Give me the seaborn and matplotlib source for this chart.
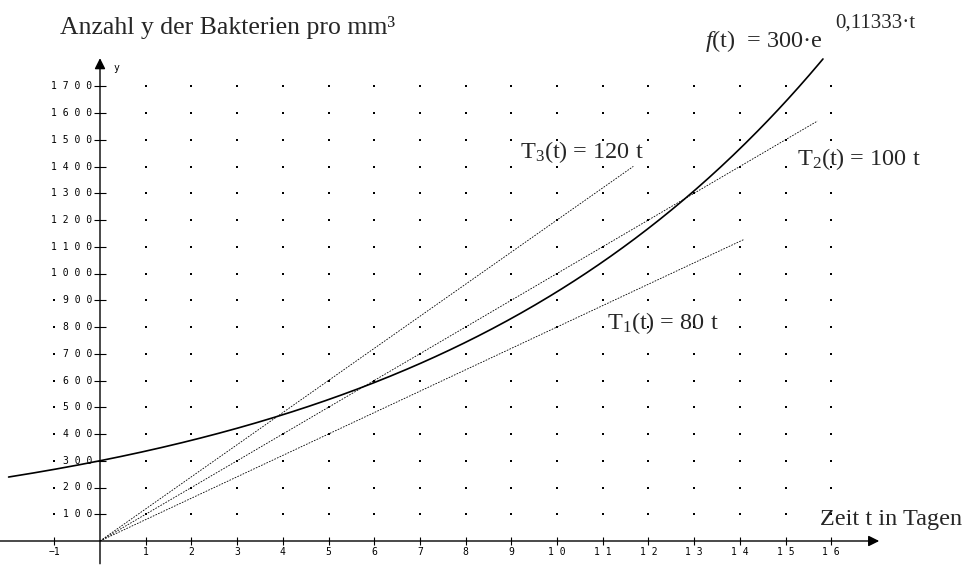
"""Bacteria growth: exponential curve with three tangent-like lines."""
import matplotlib
matplotlib.use("Agg")
import matplotlib.pyplot as plt
import seaborn as sns
import pandas as pd
import numpy as np

# data
growth_start = 300
growth_rate = 0.11333
curve_t = np.linspace(-2.0, 15.82, 400)
line_slopes = [80, 100, 120]
line_ends = [14.1, 15.7, 11.67]
x_ticks = [-1] + list(range(1, 17))
x_tick_labels = ["−1"] + [" ".join(str(v)) for v in range(1, 17)]
y_ticks = list(range(100, 1800, 100))
y_tick_labels = [" ".join(str(v)) for v in y_ticks]
dot_x = [-1] + list(range(1, 17))
dot_y = list(range(100, 1800, 100))

sns.set_style("white")
plt.rcParams["font.family"] = ["Liberation Serif", "DejaVu Serif"]
plt.rcParams["mathtext.fontset"] = "custom"
plt.rcParams["mathtext.rm"] = "Liberation Serif"
plt.rcParams["mathtext.it"] = "Liberation Serif:italic"

fig = plt.figure(figsize=(9.63, 5.65), dpi=100)
ax = fig.add_axes([0, 0, 1, 1])
ax.set_xlim(-100 / 45.7, 863 / 45.7)
ax.set_ylim(-24 / 0.2675, 541 / 0.2675)
ax.axis("off")

# dotted grid
gx, gy = np.meshgrid(dot_x, dot_y)
dots = pd.DataFrame({"t": gx.ravel(), "y": gy.ravel()})
sns.scatterplot(data=dots, x="t", y="y", ax=ax, s=3, color="black",
                linewidth=0, marker="s", zorder=1)

# axes with arrows
ax.annotate("", xy=(17.05, 0), xytext=(-2.19, 0),
            arrowprops=dict(arrowstyle="-|>", color="black", lw=1,
                            mutation_scale=16, shrinkA=0, shrinkB=0))
ax.annotate("", xy=(0, 1805), xytext=(0, -85),
            arrowprops=dict(arrowstyle="-|>", color="black", lw=1,
                            mutation_scale=16, shrinkA=0, shrinkB=0))

# tick marks
ax.plot(x_ticks, [0] * len(x_ticks), ls="none", marker="|", ms=6,
        color="black", mew=0.8)
ax.plot([0] * len(y_ticks), y_ticks, ls="none", marker="_", ms=8,
        color="black", mew=0.8)

mono = dict(family="DejaVu Sans Mono", fontsize=7, color="black")
for t, lab in zip(x_ticks, x_tick_labels):
    ax.text(t, -40, lab, ha="center", va="center", **mono)
for v, lab in zip(y_ticks, y_tick_labels):
    ax.text(-0.17, v, lab, ha="right", va="center", zorder=3,
            bbox=dict(facecolor="white", edgecolor="none", pad=0.5), **mono)
ax.text(0.3, 1768, "y", ha="left", va="center", **mono)

# exponential curve
curve = pd.DataFrame({"t": curve_t,
                      "y": growth_start * np.exp(growth_rate * curve_t)})
sns.lineplot(data=curve, x="t", y="y", ax=ax, color="black", lw=1.2,
             sort=False, zorder=5)

# straight lines
for slope, end in zip(line_slopes, line_ends):
    tt = np.array([0, end])
    sns.lineplot(x=tt, y=slope * tt, ax=ax, color="black", lw=0.6,
                 linestyle=(0, (2, 1.5)), zorder=4)

fs = 17.5
ax.text(-0.875, 1895, "Anzahl y der Bakterien pro mm³", fontsize=18.5,
        va="baseline")
ax.text(15.75, 60, "Zeit t in Tagen", fontsize=fs, va="baseline")
ax.text(13.24, 1847, r"$f$(t)  = 300·e", fontsize=fs, va="baseline")
ax.text(16.08, 1918, "0,11333·t", fontsize=15, va="baseline")
ax.text(9.19, 1432, r"T$_3$(t) = 120 t", fontsize=fs, va="baseline")
ax.text(15.25, 1406, r"T$_2$(t) = 100 t", fontsize=fs, va="baseline")
ax.text(11.1, 794, r"T$_1$(t) = 80 t", fontsize=fs, va="baseline")

plt.savefig("out.png", dpi=100)
